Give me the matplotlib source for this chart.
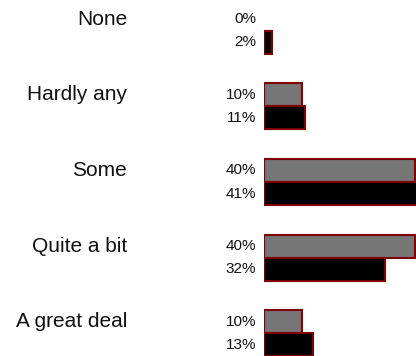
import matplotlib
matplotlib.use("Agg")
import matplotlib.pyplot as plt
import matplotlib.transforms as mtransforms
import numpy as np

categories = ["None", "Hardly any", "Some", "Quite a bit", "A great deal"]
series_gray = [0, 10, 40, 40, 10]
series_black = [2, 11, 41, 32, 13]

plt.rcParams['font.family'] = ['Liberation Sans', 'DejaVu Sans']

W, H, DPI = 416, 356, 100
fig = plt.figure(figsize=(W / DPI, H / DPI), dpi=DPI)
ax = fig.add_axes([264 / W, 0, 1 - 264 / W, 1])
ax.set_xlim(0, 40.3)
ax.set_ylim(4.30, -0.406)
ax.axis("off")

h = 0.305
y = np.arange(len(categories))
edge = "#7f0000"
lw_g = [1.5 if v > 0 else 0 for v in series_gray]
lw_b = [1.5 if v > 0 else 0 for v in series_black]
ax.barh(y - h / 2, series_gray, height=h, color="#767676", edgecolor=edge, linewidth=lw_g)
ax.barh(y + h / 2, series_black, height=h, color="#000000", edgecolor=edge, linewidth=lw_b)

off = mtransforms.offset_copy(ax.get_yaxis_transform(), fig=fig, x=-8, y=0, units="dots")
for i in range(len(categories)):
    ax.text(0, y[i] - h / 2, f"{series_gray[i]}%", transform=off, ha="right", va="center",
            fontsize=11, color="#111111", clip_on=False)
    ax.text(0, y[i] + h / 2, f"{series_black[i]}%", transform=off, ha="right", va="center",
            fontsize=11, color="#111111", clip_on=False)
    # category label
    tr = mtransforms.blended_transform_factory(fig.transFigure, ax.transData)
    ax.text(127 / W, y[i] - h / 2, categories[i], transform=tr, ha="right", va="center",
            fontsize=15, color="#111111", clip_on=False)

fig.savefig("out.png", dpi=DPI)
